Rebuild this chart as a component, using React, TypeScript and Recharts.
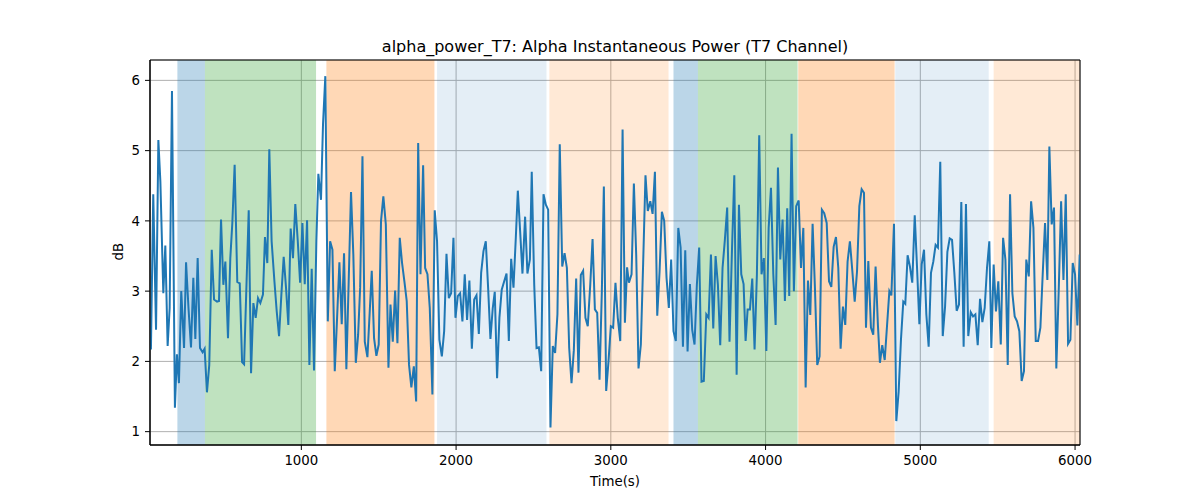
import { CartesianGrid, Line, LineChart, ReferenceArea, XAxis, YAxis } from 'recharts';

// time of each sample (s)
const timeS = [
    22, 28, 43, 61, 76, 89, 108, 121, 136, 149,
    164, 183, 196, 209, 224, 242, 255, 271, 287, 302,
    315, 330, 345, 362, 375, 390, 405, 421, 436, 455,
    468, 481, 496, 509, 526, 541, 554, 569, 586, 602,
    617, 630, 660, 675, 690, 705, 720, 735, 752, 765,
    780, 793, 808, 826, 841, 856, 871, 886, 901, 916,
    931, 946, 961, 977, 992, 1007, 1022, 1037, 1052, 1067,
    1082, 1097, 1110, 1127, 1140, 1155, 1171, 1186, 1201, 1216,
    1231, 1246, 1261, 1276, 1291, 1306, 1321, 1336, 1352, 1367,
    1380, 1395, 1410, 1427, 1442, 1455, 1470, 1485, 1500, 1515,
    1530, 1546, 1563, 1576, 1591, 1606, 1621, 1636, 1651, 1666,
    1681, 1696, 1711, 1727, 1742, 1755, 1770, 1787, 1800, 1815,
    1830, 1847, 1862, 1877, 1892, 1908, 1923, 1938, 1953, 1968,
    1983, 1996, 2011, 2026, 2041, 2056, 2071, 2086, 2102, 2117,
    2132, 2147, 2162, 2177, 2192, 2207, 2222, 2237, 2250, 2265,
    2280, 2295, 2311, 2326, 2341, 2356, 2371, 2386, 2399, 2414,
    2429, 2446, 2461, 2477, 2489, 2505, 2520, 2535, 2550, 2565,
    2580, 2595, 2610, 2625, 2640, 2655, 2670, 2686, 2701, 2716,
    2731, 2746, 2761, 2776, 2791, 2806, 2821, 2836, 2851, 2867,
    2882, 2897, 2912, 2927, 2942, 2955, 2970, 2985, 3000, 3015,
    3030, 3045, 3061, 3076, 3091, 3105, 3117, 3134, 3149, 3164,
    3179, 3194, 3209, 3224, 3239, 3255, 3270, 3285, 3300, 3315,
    3330, 3345, 3360, 3375, 3390, 3405, 3420, 3436, 3451, 3466,
    3481, 3496, 3511, 3526, 3541, 3556, 3571, 3586, 3601, 3617,
    3632, 3647, 3662, 3677, 3692, 3707, 3722, 3737, 3752, 3767,
    3783, 3798, 3813, 3828, 3843, 3858, 3871, 3884, 3899, 3914,
    3929, 3944, 3959, 3974, 3989, 4005, 4020, 4035, 4050, 4065,
    4080, 4095, 4110, 4125, 4140, 4153, 4168, 4183, 4198, 4214,
    4229, 4244, 4259, 4274, 4289, 4304, 4319, 4334, 4349, 4364,
    4379, 4395, 4410, 4425, 4440, 4455, 4470, 4485, 4500, 4515,
    4530, 4545, 4561, 4576, 4591, 4606, 4621, 4636, 4649, 4664,
    4681, 4696, 4711, 4726, 4739, 4754, 4770, 4785, 4800, 4813,
    4830, 4845, 4860, 4875, 4890, 4903, 4918, 4933, 4948, 4964,
    4979, 4994, 5009, 5024, 5039, 5054, 5069, 5084, 5099, 5114,
    5129, 5145, 5160, 5175, 5190, 5205, 5220, 5235, 5250, 5265,
    5280, 5295, 5310, 5326, 5341, 5356, 5371, 5386, 5401, 5416,
    5431, 5446, 5459, 5474, 5489, 5504, 5520, 5535, 5550, 5565,
    5580, 5595, 5610, 5625, 5640, 5655, 5670, 5685, 5701, 5716,
    5731, 5746, 5761, 5776, 5791, 5806, 5821, 5834, 5849, 5864,
    5879, 5895, 5910, 5925, 5940, 5955, 5970, 5985, 6000, 6015,
    6030,
]

// alpha power (dB), same order as timeS
const powerDb = [
    2.33, 2.17, 4.38, 2.45, 5.15, 4.56, 2.97, 3.65, 2.22, 2.76,
    5.85, 1.34, 2.10, 1.69, 3.00, 2.19, 3.41, 2.75, 2.20, 3.19,
    2.32, 3.47, 2.19, 2.13, 2.18, 1.56, 1.95, 3.59, 2.88, 2.85,
    2.86, 4.02, 3.09, 3.42, 2.33, 3.47, 3.97, 4.80, 3.13, 3.11,
    1.99, 1.96, 4.15, 1.83, 2.83, 2.62, 2.90, 2.83, 2.95, 3.77,
    3.40, 5.02, 3.71, 3.14, 2.71, 2.36, 2.95, 3.49, 3.05, 2.52,
    3.89, 3.47, 4.24, 3.71, 3.12, 3.97, 3.10, 4.01, 1.95, 3.32,
    1.87, 3.71, 4.67, 4.30, 5.37, 6.06, 2.57, 3.71, 3.59, 1.86,
    2.62, 3.41, 2.53, 3.54, 1.89, 3.14, 4.41, 3.52, 1.98, 2.38,
    3.05, 4.92, 2.28, 2.06, 2.71, 3.29, 2.33, 2.08, 2.24, 4.00,
    4.35, 3.95, 1.91, 2.81, 2.28, 3.01, 2.26, 3.76, 3.40, 3.14,
    2.86, 1.95, 1.63, 1.93, 1.43, 5.11, 3.24, 4.79, 3.33, 3.24,
    2.76, 1.53, 4.15, 3.71, 2.31, 2.07, 2.43, 3.53, 2.90, 2.97,
    3.76, 2.62, 2.93, 2.97, 2.57, 3.24, 2.59, 3.15, 2.18, 2.88,
    2.94, 2.39, 3.26, 3.57, 3.71, 3.05, 2.32, 2.76, 2.99, 1.76,
    2.62, 3.02, 3.14, 3.25, 2.29, 3.46, 3.05, 3.76, 4.43, 3.85,
    3.25, 4.06, 3.25, 3.45, 4.70, 3.09, 2.19, 2.20, 1.86, 4.38,
    4.23, 4.16, 1.06, 2.22, 2.12, 2.67, 5.09, 3.35, 3.54, 3.33,
    2.19, 1.69, 2.16, 3.18, 1.84, 3.23, 3.29, 2.62, 2.50, 3.09,
    3.74, 2.74, 2.69, 1.74, 3.00, 4.49, 1.58, 2.00, 2.50, 2.48,
    3.12, 2.62, 2.29, 5.30, 2.55, 3.34, 3.12, 3.24, 4.53, 3.52,
    1.90, 2.24, 3.40, 4.65, 4.14, 4.28, 4.10, 4.70, 2.65, 3.28,
    4.13, 4.00, 3.19, 2.76, 3.45, 2.43, 2.29, 3.90, 3.62, 2.21,
    3.58, 2.14, 3.10, 2.45, 2.24, 3.09, 3.62, 1.71, 1.72, 2.67,
    2.62, 3.52, 2.47, 3.50, 3.09, 2.23, 3.33, 3.73, 4.19, 2.28,
    3.59, 4.65, 1.81, 4.23, 3.24, 3.10, 2.29, 2.74, 2.74, 3.18,
    2.17, 3.24, 5.22, 3.24, 3.47, 2.15, 3.90, 4.47, 3.24, 2.52,
    4.76, 3.45, 4.02, 2.86, 4.18, 2.93, 5.24, 3.00, 4.21, 4.29,
    3.33, 3.90, 1.63, 3.15, 2.66, 3.96, 3.05, 1.95, 2.07, 4.16,
    4.11, 3.97, 3.14, 3.06, 3.63, 3.77, 3.33, 2.18, 2.78, 2.52,
    3.42, 3.71, 3.28, 2.85, 3.28, 4.21, 4.45, 4.40, 2.48, 3.43,
    2.48, 2.38, 3.35, 2.52, 1.98, 2.23, 2.02, 2.51, 3.00, 2.94,
    3.96, 1.15, 1.57, 2.31, 2.85, 2.82, 3.51, 3.35, 3.12, 4.08,
    3.33, 2.53, 3.38, 3.59, 2.67, 2.21, 3.26, 3.42, 3.66, 3.62,
    4.84, 2.36, 2.78, 3.56, 3.75, 3.73, 3.26, 2.72, 2.81, 4.27,
    2.21, 4.24, 2.36, 2.70, 2.64, 2.67, 2.23, 2.89, 2.56, 2.76,
    3.33, 3.71, 2.19, 3.38, 2.71, 3.14, 2.24, 3.76, 3.45, 1.95,
    4.38, 2.97, 2.64, 2.57, 2.43, 1.72, 1.86, 3.45, 3.21, 4.28,
    3.90, 2.29, 2.29, 2.48, 3.24, 3.97, 3.16, 5.06, 3.95, 4.19,
    1.90, 3.05, 4.28, 3.16, 4.38, 2.25, 2.31, 3.40, 3.24, 2.51,
    3.52,
]

// shaded phases
const phaseStart = [199, 377, 1162, 1877, 2603, 3405, 3563, 4211, 4838, 5474]
const phaseEnd = [377, 1095, 1860, 2584, 3373, 3563, 4207, 4834, 5442, 6032]
const phaseKind = ['a', 'b', 'c', 'd', 'e', 'a', 'b', 'c', 'd', 'e']

const xTicks = [1000, 2000, 3000, 4000, 5000, 6000]
const yTicks = [1, 2, 3, 4, 5, 6]

const X_DOMAIN: [number, number] = [22, 6032]
const Y_DOMAIN: [number, number] = [0.81, 6.29]

const phaseStyle: Record<string, { fill: string; opacity: number }> = {
    a: { fill: '#1f77b4', opacity: 0.3 },
    b: { fill: '#2ca02c', opacity: 0.3 },
    c: { fill: '#ff7f0e', opacity: 0.3 },
    d: { fill: '#1f77b4', opacity: 0.12 },
    e: { fill: '#ff7f0e', opacity: 0.17 },
}

const font = '"DejaVu Sans", sans-serif'
const tickStyle = { fontFamily: font, fontSize: 13.33, fill: '#000' }

export default function App() {
    const data = timeS.map((t, i) => ({ t, db: powerDb[i] }))

    return <div style={{ position: 'absolute', left: 0, top: 0, width: 1200, height: 500, background: '#fff' }}>
        <LineChart width={1200} height={500} data={data} margin={{ top: 60, right: 120, left: 0, bottom: 0 }}>
            {phaseStart.map((s, i) => (
                <ReferenceArea key={i} x1={s} x2={phaseEnd[i]} fill={phaseStyle[phaseKind[i]].fill}
                    fillOpacity={phaseStyle[phaseKind[i]].opacity} stroke="none" />
            ))}
            <CartesianGrid stroke="#b0b0b0" strokeWidth={1} />
            <XAxis dataKey="t" type="number" domain={X_DOMAIN} allowDataOverflow ticks={xTicks} height={55}
                tick={tickStyle} tickSize={5} tickMargin={6} stroke="#000" />
            <YAxis type="number" domain={Y_DOMAIN} allowDataOverflow ticks={yTicks} width={150}
                tick={tickStyle} tickSize={5} tickMargin={5} stroke="#000" />
            <Line type="linear" dataKey="db" stroke="#1f77b4" strokeWidth={2} dot={false} isAnimationActive={false} />
            <ReferenceArea x1={X_DOMAIN[0]} x2={X_DOMAIN[1]} y1={Y_DOMAIN[0]} y2={Y_DOMAIN[1]} fill="none" stroke="#000" strokeWidth={1} />
        </LineChart>
        <div style={{ position: 'absolute', left: 150, top: 39, width: 930, textAlign: 'center', fontFamily: font, fontSize: 16, lineHeight: '16px' }}>
            alpha_power_T7: Alpha Instantaneous Power (T7 Channel)
        </div>
        <div style={{ position: 'absolute', left: 150, top: 475, width: 930, textAlign: 'center', fontFamily: font, fontSize: 13.33, lineHeight: '13.33px' }}>
            Time(s)
        </div>
        <div style={{ position: 'absolute', left: 119 - 30, top: 252 - 7, width: 60, textAlign: 'center', fontFamily: font, fontSize: 13.33, lineHeight: '13.33px', transform: 'rotate(-90deg)' }}>
            dB
        </div>
    </div>
}
